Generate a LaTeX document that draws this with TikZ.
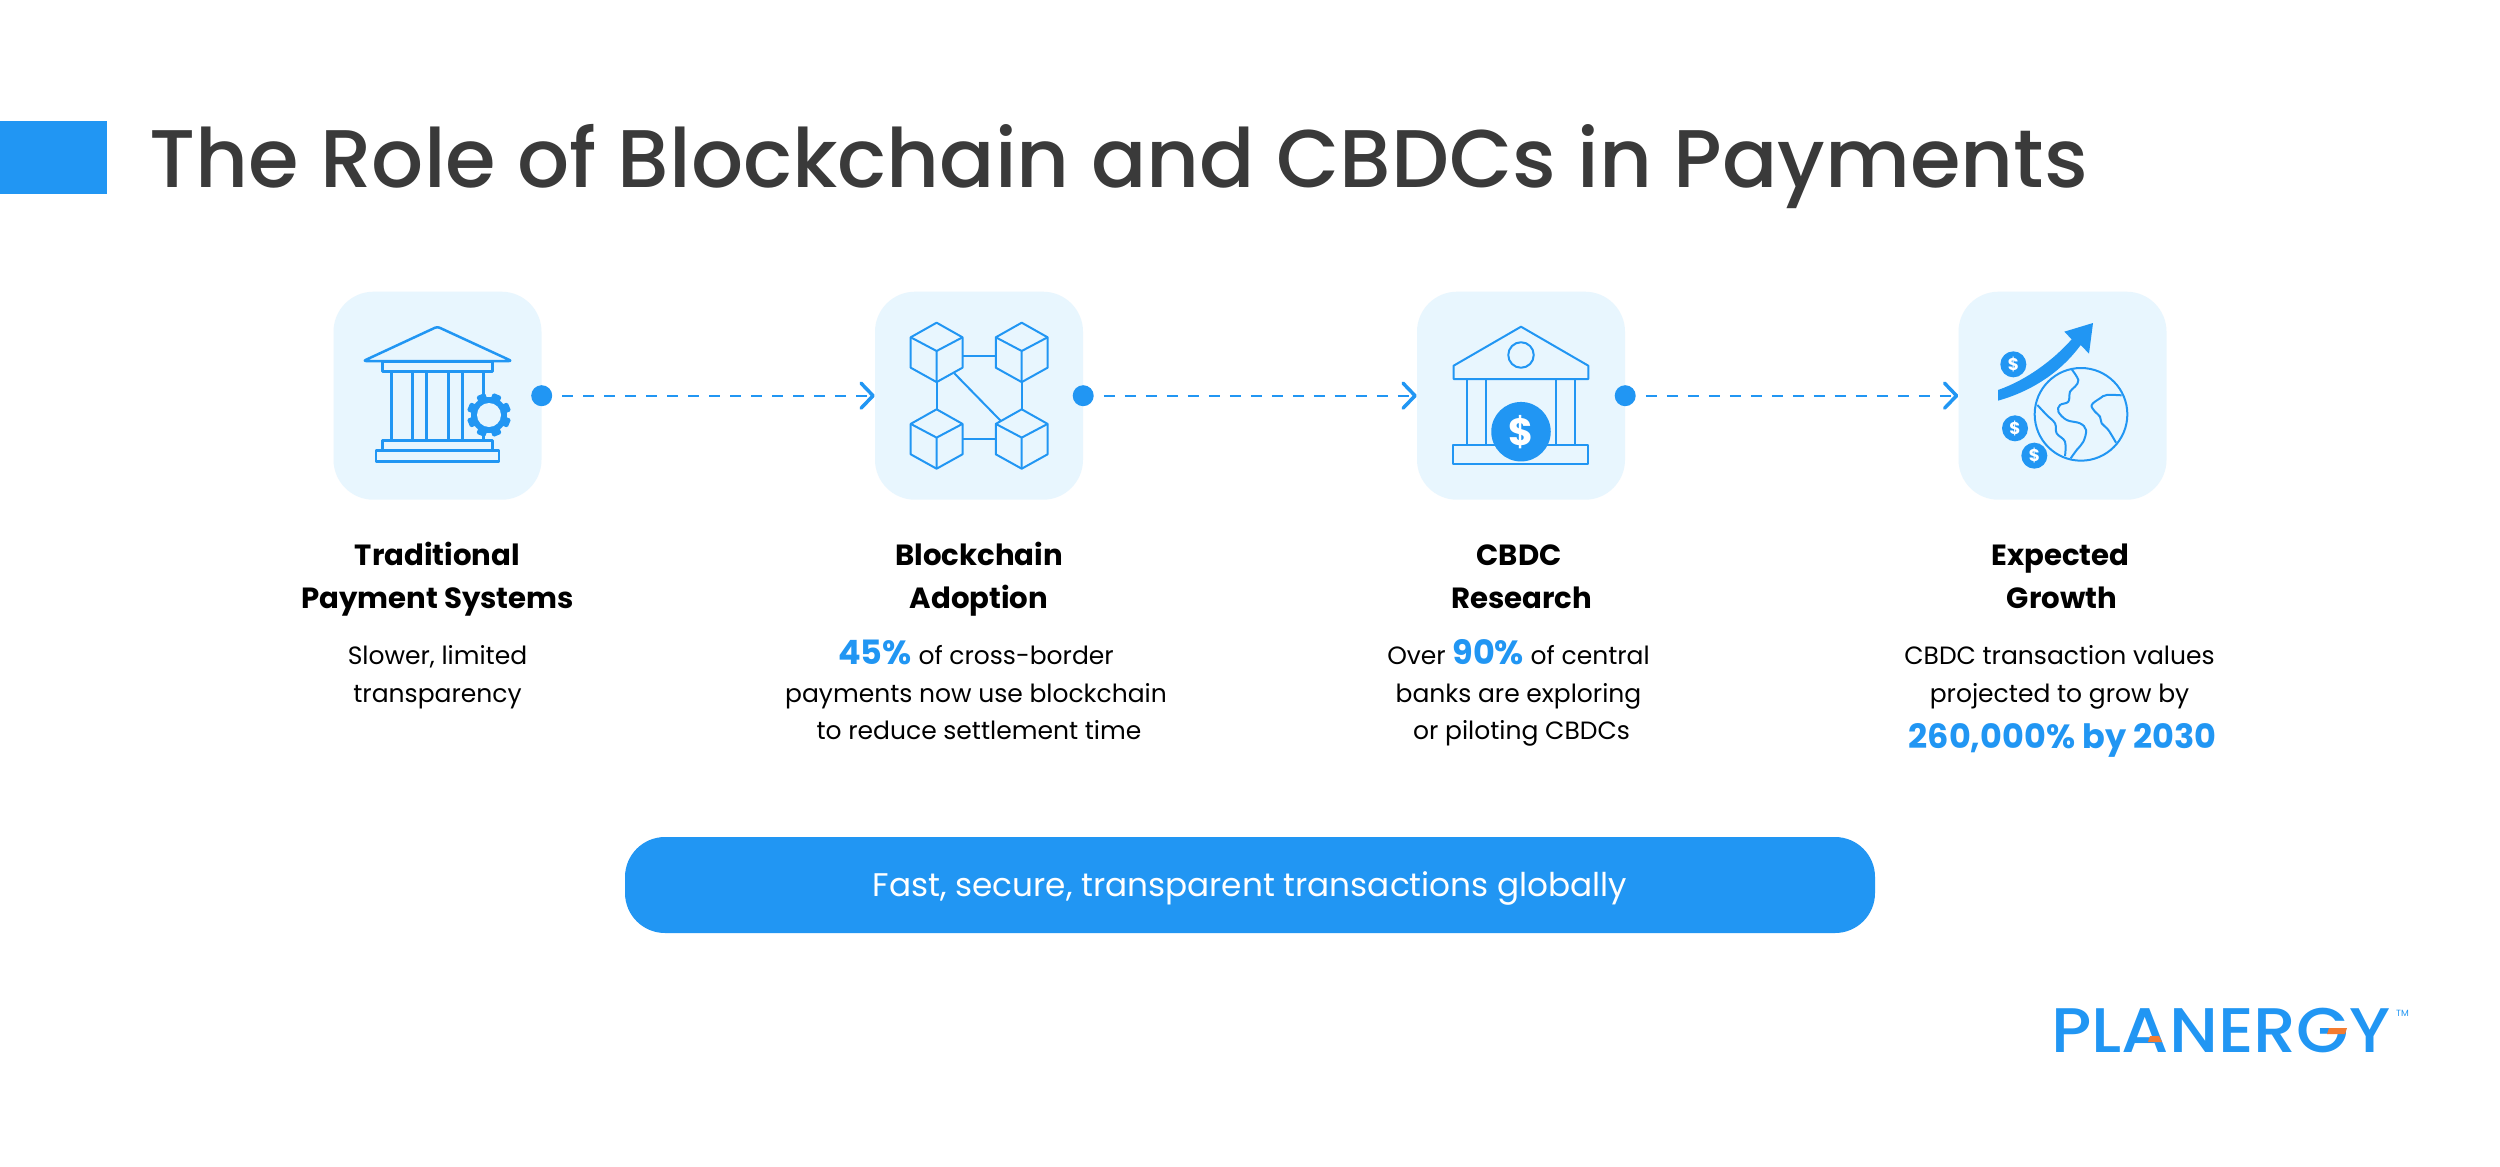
\documentclass[tikz,border=0pt]{standalone}
\usepackage{fontspec}
\setmainfont{Poppins}
\newfontfamily\medfont[UprightFont={* Medium}]{Poppins}
\newfontfamily\logofont[UprightFont={* Medium},FakeStretch=1.078]{Poppins}
\usetikzlibrary{arrows.meta}
\definecolor{bluec}{HTML}{2196F3}
\definecolor{tilec}{HTML}{E8F6FE}
\definecolor{titlec}{HTML}{3A3A3A}
\definecolor{orangec}{HTML}{F47B30}
\newcommand{\hl}[2]{{\fontsize{#1}{37.8}\selectfont\bfseries\color{bluec}#2}}
\newcommand{\topstrut}{\rule{0pt}{30pt}}
\tikzset{
 x=1pt,y=-1pt,
 tile/.style={fill=tilec,rounded corners=40pt,minimum width=208pt,minimum height=208pt,inner sep=0pt},
 dotn/.style={circle,fill=bluec,minimum size=21pt,inner sep=0pt},
 flow/.style={draw=bluec,line width=2pt,dash pattern=on 11pt off 10pt,shorten <=10pt,-{Straight Barb[length=12pt,width=25pt,line width=3.5pt,round]}},
 head/.style={align=center,text=black,font=\fontsize{29.2}{43}\selectfont\bfseries,inner sep=0pt,anchor=north},
 body/.style={align=center,text=black,font=\fontsize{25}{37.8}\selectfont,inner sep=0pt,anchor=north},
 ico/.style={draw=bluec,line width=2.5pt,line join=round},
 icot/.style={draw=bluec,line width=2pt,line join=round},
 coin/.style={circle,fill=bluec,text=white,inner sep=0pt},
}
\begin{document}
\begin{tikzpicture}
\useasboundingbox (0,0) rectangle (2500,1167);
\fill[white] (0,0) rectangle (2500,1167);
\fill[bluec] (0,121) rectangle (106.5,194);
\node[anchor=base west,inner sep=0pt,text=titlec,font=\fontsize{81.8}{90}\selectfont\medfont] (title) at (149,187) {The Role of Blockchain and CBDCs in Payments};

% tiles
\node[tile] (t1) at (437.5,395.7) {};
\node[tile] (t2) at (979,395.7) {};
\node[tile] (t3) at (1521,395.7) {};
\node[tile] (t4) at (2062.5,395.7) {};
\node[dotn] (d1) at (t1.east) {};
\node[dotn] (d2) at (t2.east) {};
\node[dotn] (d3) at (t3.east) {};
\draw[flow] (d1) -- (t2.west);
\draw[flow] (d2) -- (t3.west);
\draw[flow] (d3) -- (t4.west);

% icon 1
\begin{scope}[shift={(330,290)},x=.33333pt,y=-.33333pt]
 \draw[ico,rounded corners=2.5pt] (322,110) -- (545,213) -- (100,213) -- cycle;
 \draw[ico] (158,216) rectangle (487,245);
 \foreach \c in {184,247,289,355,398,461} \draw[ico] (\c,245) -- (\c,452);
 \draw[ico] (158,452) rectangle (487,482);
 \draw[ico] (138,482) rectangle (507,514);
 \fill[bluec] (477,375) circle (54);
 \foreach \a in {22.5,67.5,...,337.5}
  \fill[bluec,rounded corners=1.5pt,rotate around={\a:(477,375)}] (463,309) rectangle (491,340);
 \fill[tilec] (477,375) circle (36);
\end{scope}

% icon 2
\foreach \cx/\cy/\n in {936.6/322.7/a,1021.7/322.7/b,936.6/409.3/c,1021.7/409.3/d}{
 \begin{scope}[shift={(\cx,\cy)}]
  \draw[icot] (0,0) -- (25.9,14.6) -- (25.9,45) -- (0,59.4) -- (-25.9,45) -- (-25.9,14.6) -- cycle;
  \draw[icot] (-25.9,14.6) -- (0,28.3) -- (25.9,14.6) (0,28.3) -- (0,59.4);
 \end{scope}
}
\draw[icot] (962.5,355.7) -- (995.8,355.7);
\draw[icot] (962.5,439) -- (995.8,439);
\draw[icot] (936.6,382) -- (936.6,409.3);
\draw[icot] (1021.7,382) -- (1021.7,409.3);
\draw[icot] (954.3,373.3) -- (1000.6,420.7);

% icon 3
\draw[icot] (1521,326.7) -- (1588.3,365.7) -- (1588.3,379) -- (1453.6,379) -- (1453.6,365.7) -- cycle;
\draw[icot] (1521,355) circle (12.75);
\foreach \c in {1466.8,1486.2,1555.6,1575} \draw[icot] (\c,379) -- (\c,445);
\draw[icot] (1453,445) rectangle (1588,464.3);
\node[coin,minimum size=59.5pt,font=\fontsize{38}{38}\selectfont\bfseries] (c0) at (1521,431.7) {\$};

% icon 4
\begin{scope}[shift={(1960,290)},x=.33333pt,y=-.33333pt]
 \fill[bluec] (114,300) .. controls (200,270) and (280,210) .. (335,148) -- (313,125) -- (399,99) -- (387,191) -- (362,165) .. controls (300,250) and (210,305) .. (114,332) -- cycle;
 \draw[icot] (363,373) circle (139);
 \draw[icot] plot[smooth,tension=.6] coordinates {(335,238) (355,270) (345,290) (330,305) (325,335) (300,345) (295,365) (320,390) (360,400) (378,420) (370,455) (350,480) (332,505)};
 \draw[icot] plot[smooth,tension=.6] coordinates {(232,345) (260,375) (285,400) (290,430) (315,455) (315,498)};
 \draw[icot] plot[smooth,tension=.6] coordinates {(485,316) (440,315) (420,325) (395,345) (405,365) (420,380) (425,400) (445,420) (468,458)};
 \node[coin,minimum size=26pt,font=\fontsize{17}{17}\selectfont\bfseries] (c1) at (160,223) {\$};
 \node[coin,minimum size=26pt,font=\fontsize{17}{17}\selectfont\bfseries] (c2) at (165,415) {\$};
 \node[coin,minimum size=26pt,font=\fontsize{17}{17}\selectfont\bfseries] (c3) at (223,497) {\$};
\end{scope}

% headings
\node[head] (h1) at (437.5,535) {\topstrut Traditional\\Payment Systems};
\node[head] (h2) at (979,535) {\topstrut Blockchain\\Adoption};
\node[head] (h3) at (1519,535) {\topstrut CBDC\\\hspace*{5pt}Research};
\node[head] (h4) at (2060.5,535) {\topstrut Expected\\\hspace*{3pt}Growth};

% bodies
\node[body] (b1) at (437.5,634) {\topstrut Slower, limited\\transparency};
\node[body] (b2) at (976,634) {\topstrut\hl{33.5}{45\%} of cross-border\\payments now use blockchain\\\hspace*{6pt}to reduce settlement time};
\node[body] (b3) at (1518.5,634) {\topstrut Over \hl{33.5}{90\%} of central\\banks are exploring\\\hspace*{6pt}or piloting CBDCs};
\node[body] (b4) at (2059.5,634) {\topstrut CBDC transaction values\\projected to grow by\\[9pt]\hspace*{6pt}\hl{33.5}{260,000\% by 2030}};

% pill
\node[fill=bluec,rounded corners=40pt,minimum width=1250pt,minimum height=96pt,inner sep=0pt,text=white,font=\fontsize{32.7}{40}\selectfont,text height=30pt,text depth=7pt] (pill) at (1250,885) {Fast, secure, transparent transactions globally};

% logo
\node[anchor=base west,inner sep=0pt,text=bluec,font=\fontsize{63}{63}\selectfont\logofont] (logo) at (2051,1052) {PLANERGY};
\fill[orangec] (2150,1036) -- (2159,1036) -- (2162,1042) -- (2148,1042) -- cycle;
\fill[orangec] (2329,1028) -- (2347,1028) -- (2345,1034) -- (2327,1034) -- cycle;
\node[anchor=base west,inner sep=0pt,text=bluec,font=\fontsize{9}{9}\selectfont] (tm) at (2396,1016) {TM};
\end{tikzpicture}
\end{document}
